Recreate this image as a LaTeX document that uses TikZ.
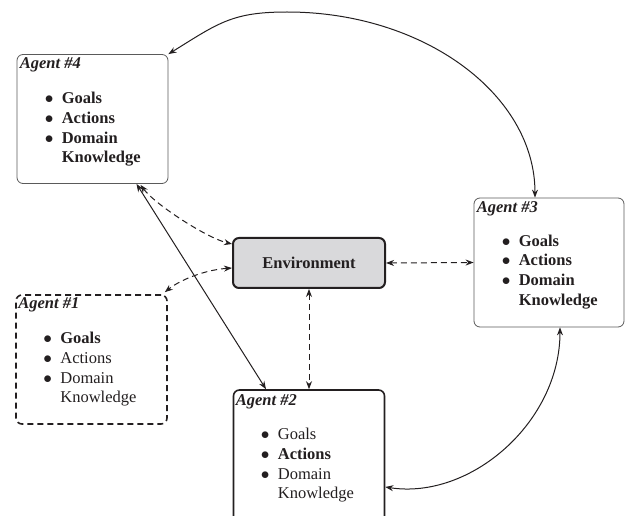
\documentclass[tikz,border=0pt]{standalone}
\usepackage{fontspec}
\setmainfont{Liberation Serif}
\usetikzlibrary{arrows.meta, positioning, calc}
\definecolor{FigInk}{HTML}{231F20}
\definecolor{FrameGray}{HTML}{5A5A5A}
\definecolor{EnvFill}{HTML}{D9D9DB}
\newcommand{\itm}[1]{\makebox[16pt][l]{\hspace*{-1pt}$\bullet$}#1}
\newcommand{\itmgap}[1]{\hspace*{16pt}#1}

\begin{document}
\begin{tikzpicture}[
    x=1pt, y=-1pt,
    font=\fontsize{16.5}{19.7}\selectfont,
    >={Stealth[length=8pt,width=6pt]},
    card/.style={
      rectangle,
      rounded corners=6pt,
      minimum width=151pt,
      minimum height=129pt,
      inner sep=0pt,
      draw=FrameGray,
      line width=0.8pt,
    },
    cardbold/.style={card, draw=FigInk, line width=1.6pt},
    carddash/.style={cardbold, dash pattern=on 6pt off 4pt},
    envbox/.style={
      rectangle,
      rounded corners=6pt,
      minimum width=152pt,
      minimum height=50pt,
      draw=FigInk,
      fill=EnvFill,
      line width=2pt,
      font=\fontsize{16.5}{19.7}\selectfont\bfseries,
      text=FigInk,
    },
    cardtitle/.style={
      anchor=base west,
      inner sep=0pt,
      font=\fontsize{16.5}{19.7}\selectfont\bfseries\itshape,
      text=FigInk,
    },
    cardlist/.style={
      anchor=north west,
      inner sep=0pt,
      align=left,
      text=FigInk,
    },
    link/.style={<->, draw=FigInk, line width=1pt},
    dlink/.style={link, dash pattern=on 6pt off 4pt},
  ]
    \useasboundingbox (0,0) rectangle (625,516);

    \node[envbox] (env) at (309,263) {Environment};

    \node[card] (a4) at (92.5,119) {};
    \node[cardtitle] (a4t) at ($(a4.north west)+(3,14)$) {Agent \#4};
    \node[cardlist, font=\fontsize{16.5}{19.7}\selectfont\bfseries] (a4l)
      at ($(a4.north west)+(29,38)$) {%
      \itm{Goals}\\ \itm{Actions}\\ \itm{Domain}\\ \itmgap{Knowledge}};

    \node[carddash] (a1) at (91.5,359.5) {};
    \node[cardtitle] (a1t) at ($(a1.north west)+(3,14)$) {Agent \#1};
    \node[cardlist] (a1l) at ($(a1.north west)+(29,38)$) {%
      \itm{\textbf{Goals}}\\ \itm{Actions}\\ \itm{Domain}\\ \itmgap{Knowledge}};

    \node[cardbold, minimum height=150pt] (a2) at (309,465) {};
    \node[cardtitle] (a2t) at ($(a2.north west)+(3,16)$) {Agent \#2};
    \node[cardlist] (a2l) at ($(a2.north west)+(29,39)$) {%
      \itm{Goals}\\ \itm{\textbf{Actions}}\\ \itm{Domain}\\ \itmgap{Knowledge}};

    \node[card, minimum width=150pt] (a3) at (549,262.5) {};
    \node[cardtitle] (a3t) at ($(a3.north west)+(3,15)$) {Agent \#3};
    \node[cardlist, font=\fontsize{16.5}{19.7}\selectfont\bfseries] (a3l)
      at ($(a3.north west)+(29,37)$) {%
      \itm{Goals}\\ \itm{Actions}\\ \itm{Domain}\\ \itmgap{Knowledge}};

    % solid links between agents
    \coordinate (arcTop) at (287,12);
    \draw[link] (a4.north east) .. controls +(50,-31) and +(-55,0) .. (arcTop)
      .. controls +(137,0) and +(0,-103) .. ($(a3.north)+(-14,0)$);
    \draw[link] ($(a3.south)+(11,0)$) .. controls +(0,95) and +(85,13)
      .. ($(a2.east)+(0,22)$);
    \draw[link] ($(a4.south)+(44,0)$) -- ($(a2.north)+(-43,0)$);

    % dashed links to the environment
    \draw[dlink] ($(a4.south)+(48,1)$) .. controls +(15,20) and +(-25,-6)
      .. ($(env.west)+(0,-19)$);
    \draw[dlink] ($(env.west)+(0,5)$) .. controls +(-28,2) and +(15,-12)
      .. ($(a1.north east)+(-3,-2)$);
    \draw[dlink] (env.east) -- (a3.west);
    \draw[dlink] (env.south) -- (a2.north);
  \end{tikzpicture}
\end{document}
